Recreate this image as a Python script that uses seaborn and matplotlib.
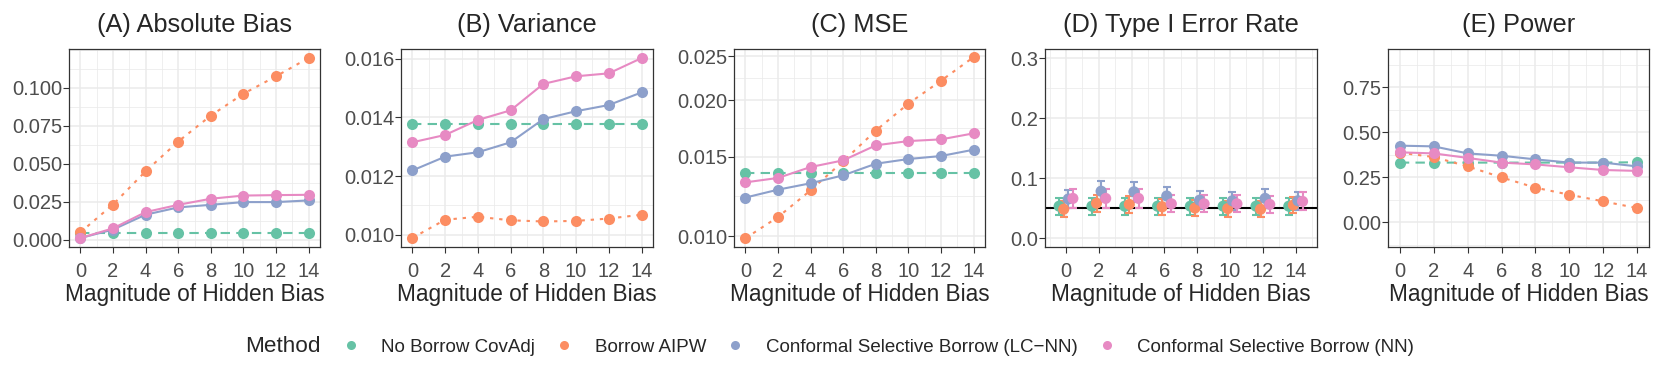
import numpy as np
import pandas as pd
import seaborn as sns
import matplotlib.pyplot as plt
from matplotlib.lines import Line2D
from matplotlib.ticker import FixedLocator, FormatStrFormatter, MultipleLocator

# ---- data ----
bias = [0, 2, 4, 6, 8, 10, 12, 14]
methods = ["No Borrow CovAdj", "Borrow AIPW",
           "Conformal Selective Borrow (LC\u2212NN)", "Conformal Selective Borrow (NN)"]

abs_bias_nb = [0.0044, 0.0044, 0.0044, 0.0044, 0.0044, 0.0044, 0.0044, 0.0044]
abs_bias_aipw = [0.0048, 0.0231, 0.0450, 0.0646, 0.0817, 0.0961, 0.1076, 0.1197]
abs_bias_lcnn = [0.0010, 0.0066, 0.0164, 0.0212, 0.0229, 0.0247, 0.0247, 0.0258]
abs_bias_nn = [0.0010, 0.0074, 0.0181, 0.0229, 0.0269, 0.0290, 0.0293, 0.0295]

var_nb = [0.01379, 0.01379, 0.01379, 0.01379, 0.01379, 0.01379, 0.01379, 0.01379]
var_aipw = [0.00989, 0.01051, 0.01061, 0.01049, 0.01045, 0.01047, 0.01055, 0.01068]
var_lcnn = [0.01219, 0.01266, 0.01281, 0.01315, 0.01394, 0.01421, 0.01442, 0.01485]
var_nn = [0.01315, 0.01340, 0.01391, 0.01424, 0.01514, 0.01540, 0.01550, 0.01602]

mse_nb = [0.01383, 0.01383, 0.01383, 0.01383, 0.01383, 0.01383, 0.01383, 0.01383]
mse_aipw = [0.00990, 0.01103, 0.01264, 0.01465, 0.01713, 0.01965, 0.02208, 0.02490]
mse_lcnn = [0.01218, 0.01268, 0.01310, 0.01364, 0.01447, 0.01482, 0.01505, 0.01554]
mse_nn = [0.01316, 0.01346, 0.01423, 0.01472, 0.01589, 0.01624, 0.01638, 0.01689]

t1e_nb = [0.053, 0.053, 0.053, 0.053, 0.053, 0.053, 0.053, 0.053]
t1e_aipw = [0.048, 0.058, 0.056, 0.052, 0.050, 0.049, 0.048, 0.055]
t1e_lcnn = [0.065, 0.078, 0.077, 0.070, 0.063, 0.062, 0.066, 0.062]
t1e_nn = [0.066, 0.066, 0.066, 0.057, 0.057, 0.057, 0.056, 0.061]
n_sims = 1000
alpha_level = 0.05

power_nb = [0.331, 0.331, 0.331, 0.331, 0.331, 0.331, 0.331, 0.333]
power_aipw = [0.386, 0.362, 0.310, 0.249, 0.192, 0.153, 0.116, 0.079]
power_lcnn = [0.425, 0.421, 0.382, 0.369, 0.349, 0.331, 0.331, 0.310]
power_nn = [0.388, 0.382, 0.357, 0.331, 0.321, 0.305, 0.290, 0.285]

palette = dict(zip(methods, ["#66C2A5", "#FC8D62", "#8DA0CB", "#E78AC3"]))
dashes = dict(zip(methods, [(4.5, 3), (1.6, 2.8), "", ""]))


def long_df(series):
    rows = []
    for m, vals in zip(methods, series):
        for b, v in zip(bias, vals):
            rows.append({"bias": b, "value": v, "method": m})
    return pd.DataFrame(rows)


sns.set_theme(style="white")
plt.rcParams["font.family"] = ["Liberation Sans", "DejaVu Sans"]

fig = plt.figure(figsize=(16.61, 3.78), dpi=100)
H = 378.0
W = 1661.0
boxes = [(69, 320), (401, 653), (734, 985), (1045, 1317), (1388, 1649)]
top, bottom = 49, 247
axes = [fig.add_axes([l / W, 1 - bottom / H, (r - l) / W, (bottom - top) / H]) for l, r in boxes]

panels = [
    ("(A) Absolute Bias", [abs_bias_nb, abs_bias_aipw, abs_bias_lcnn, abs_bias_nn]),
    ("(B) Variance", [var_nb, var_aipw, var_lcnn, var_nn]),
    ("(C) MSE", [mse_nb, mse_aipw, mse_lcnn, mse_nn]),
    ("(D) Type I Error Rate", None),
    ("(E) Power", [power_nb, power_aipw, power_lcnn, power_nn]),
]

for ax, (title, series) in zip(axes, panels):
    if series is not None:
        df = long_df(series)
        sns.lineplot(data=df, x="bias", y="value", hue="method", style="method",
                     hue_order=methods, style_order=methods, palette=palette,
                     dashes=dashes, markers={m: "o" for m in methods},
                     markersize=8, markeredgewidth=0, linewidth=1.5,
                     legend=False, ax=ax)
    ax.set_title(title, fontsize=18.3, pad=12.5)

# panel D: dodged points with binomial CIs
ax = axes[3]
ax.axhline(alpha_level, color="black", lw=1.5, zorder=1)
offsets = dict(zip(methods, [-0.42, -0.14, 0.14, 0.42]))
t1e = long_df([t1e_nb, t1e_aipw, t1e_lcnn, t1e_nn])
t1e["x"] = t1e["bias"] + t1e["method"].map(offsets)
t1e["se"] = 1.96 * np.sqrt(t1e["value"] * (1 - t1e["value"]) / n_sims)
for m in methods:
    sub = t1e[t1e["method"] == m]
    ax.errorbar(sub["x"], sub["value"], yerr=sub["se"], fmt="none",
                ecolor=palette[m], elinewidth=1.5, capsize=3, capthick=1.5, zorder=2)
    sns.scatterplot(data=sub, x="x", y="value", color=palette[m], s=64,
                    edgecolor="none", legend=False, ax=ax, zorder=3)

# axes styling (theme_bw-like)
for ax in axes:
    ax.set_xlabel("Magnitude of Hidden Bias", fontsize=16.3, labelpad=2)
    ax.set_ylabel("")
    ax.set_xticks(bias)
    ax.xaxis.set_minor_locator(MultipleLocator(1))
    ax.set_axisbelow(True)
    ax.grid(which="major", color="#EBEBEB", lw=1.1)
    ax.grid(which="minor", color="#EBEBEB", lw=0.55)
    ax.tick_params(which="major", length=4, width=0.8, color="#333333",
                   labelcolor="#4D4D4D", labelsize=14.5, bottom=True, left=True)
    ax.tick_params(axis="x", which="major", pad=6.5)
    ax.tick_params(axis="y", which="major", pad=1)
    ax.tick_params(which="minor", length=0)
    for s in ax.spines.values():
        s.set_color("#333333")
        s.set_linewidth(0.9)
    ax.set_xlim(-0.7, 14.7)

axes[0].set_yticks([0.0, 0.025, 0.05, 0.075, 0.1])
axes[0].yaxis.set_major_formatter(FormatStrFormatter("%.3f"))
axes[0].yaxis.set_minor_locator(MultipleLocator(0.0125))
axes[0].set_ylim(-0.0049, 0.1256)

axes[1].set_yticks([0.010, 0.012, 0.014, 0.016])
axes[1].yaxis.set_major_formatter(FormatStrFormatter("%.3f"))
axes[1].yaxis.set_minor_locator(MultipleLocator(0.001))
axes[1].set_ylim(0.00958, 0.01633)

axes[2].set_yscale("log")
cticks = [0.010, 0.015, 0.020, 0.025]
axes[2].yaxis.set_major_locator(FixedLocator(cticks))
axes[2].yaxis.set_major_formatter(FormatStrFormatter("%.3f"))
axes[2].yaxis.set_minor_locator(FixedLocator([np.sqrt(a * b) for a, b in zip(cticks[:-1], cticks[1:])]))
axes[2].yaxis.set_minor_formatter(plt.NullFormatter())
axes[2].set_ylim(0.00947, 0.02595)

axes[3].set_yticks([0.0, 0.1, 0.2, 0.3])
axes[3].yaxis.set_major_formatter(FormatStrFormatter("%.1f"))
axes[3].yaxis.set_minor_locator(MultipleLocator(0.05))
axes[3].set_ylim(-0.015, 0.315)
axes[3].set_xlim(-1.28, 15.3)

axes[4].set_yticks([0.0, 0.25, 0.5, 0.75])
axes[4].yaxis.set_major_formatter(FormatStrFormatter("%.2f"))
axes[4].yaxis.set_minor_locator(MultipleLocator(0.125))
axes[4].set_ylim(-0.137, 0.961)

# legend along the bottom
handles = [Line2D([], [], marker="o", linestyle="", color=palette[m],
                  markersize=6.5, markeredgewidth=0) for m in methods]
fig.text(245 / W, 1 - 347 / H, "Method", fontsize=16.2, va="center", ha="left")
fig.legend(handles, methods, loc="center left", bbox_to_anchor=(343.6 / W, 1 - 347 / H),
           ncol=4, frameon=False, fontsize=13.5, handletextpad=1.21,
           columnspacing=1.16, handlelength=0.8, borderaxespad=0, borderpad=0)

fig.savefig("out.png", dpi=100)
